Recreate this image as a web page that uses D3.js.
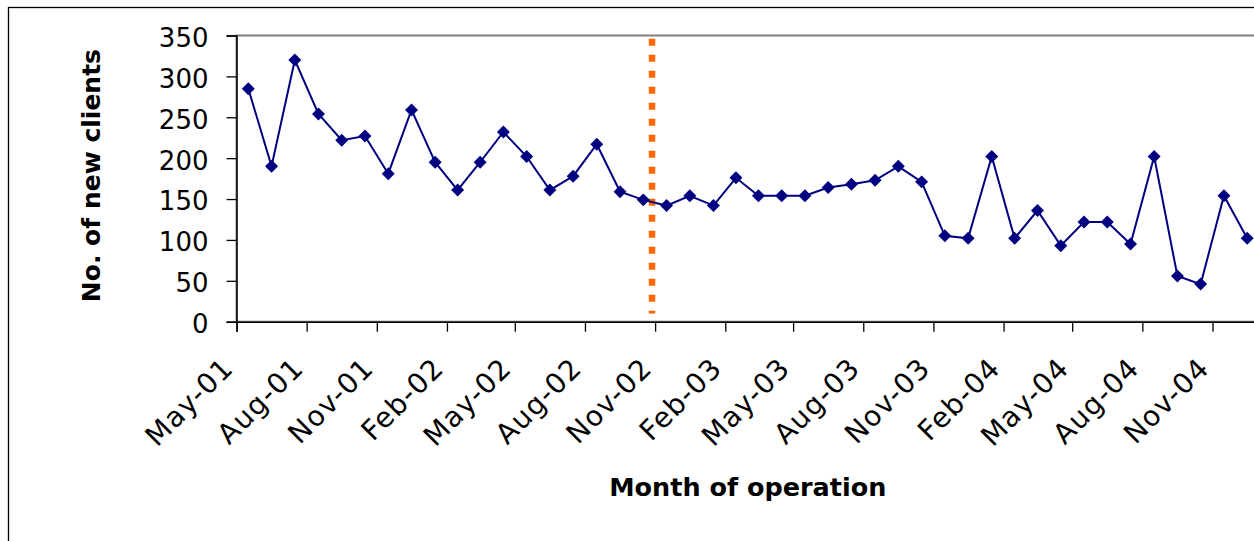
<!DOCTYPE html>
<html>
<head>
<meta charset="utf-8">
<script src="https://cdn.jsdelivr.net/npm/d3@7"></script>
<style>
  html, body { margin: 0; padding: 0; background: #fff; }
  svg { display: block; }
  text { font-family: "DejaVu Sans", sans-serif; fill: #000; }
</style>
</head>
<body>
<svg id="chart" width="1254" height="541"></svg>
<script>
// Monthly intake of new clients, May 2001 – Dec 2004
const months = [
  "May-01","Jun-01","Jul-01","Aug-01","Sep-01","Oct-01","Nov-01","Dec-01",
  "Jan-02","Feb-02","Mar-02","Apr-02","May-02","Jun-02","Jul-02","Aug-02",
  "Sep-02","Oct-02","Nov-02","Dec-02","Jan-03","Feb-03","Mar-03","Apr-03",
  "May-03","Jun-03","Jul-03","Aug-03","Sep-03","Oct-03","Nov-03","Dec-03",
  "Jan-04","Feb-04","Mar-04","Apr-04","May-04","Jun-04","Jul-04","Aug-04",
  "Sep-04","Oct-04","Nov-04","Dec-04"
];
const newClients = [
  285, 190, 320, 254, 222, 227, 181, 259,
  195, 161, 195, 232, 202, 161, 178, 217,
  159, 149, 142, 154, 142, 176, 154, 154,
  154, 164, 168, 173, 190, 171, 105, 102,
  202, 102, 136,  93, 122, 122,  95, 202,
   56,  46, 154, 102
];
const tickLabels = [
  "May-01","Aug-01","Nov-01","Feb-02","May-02","Aug-02","Nov-02",
  "Feb-03","May-03","Aug-03","Nov-03","Feb-04","May-04","Aug-04","Nov-04"
];
const yTicks = [0, 50, 100, 150, 200, 250, 300, 350];
// Start of the new service arrangement, and the span of the marker line
const changeDate = "2002-10-28";
const changeSpan = [346, 10];

const parseMonth = d3.timeParse("%b-%y");
const fmtMonth = d3.timeFormat("%b-%y");

const svg = d3.select("#chart");
const plot = { left: 236.5, top: 35.5, right: 1259, bottom: 321.7 };

// Outer chart frame
svg.append("rect")
  .attr("x", 8.5).attr("y", 7.5)
  .attr("width", 1400).attr("height", 700)
  .attr("fill", "#fff").attr("stroke", "#000").attr("stroke-width", 1.3);

const x = d3.scaleTime()
  .domain([parseMonth("May-01"), parseMonth("Jan-05")])
  .range([plot.left, plot.right]);
const y = d3.scaleLinear().domain([0, 350]).range([plot.bottom, plot.top]);

// Plot-area border
svg.append("rect")
  .attr("x", plot.left).attr("y", plot.top)
  .attr("width", plot.right - plot.left).attr("height", plot.bottom - plot.top)
  .attr("fill", "none").attr("stroke", "#808080").attr("stroke-width", 2);

// Each month's point sits in the middle of its month
const points = months.map((m, i) => {
  const start = parseMonth(m);
  const end = d3.timeMonth.offset(start, 1);
  return { date: new Date((+start + +end) / 2), value: newClients[i] };
});

// Y axis
const yAxis = svg.append("g")
  .attr("transform", `translate(${plot.left},0)`)
  .call(d3.axisLeft(y).tickValues(yTicks).tickSize(10).tickPadding(18));
yAxis.selectAll("text")
  .style("font-size", "26px")
  .attr("dy", "0.42em");

// X axis
const xAxis = svg.append("g")
  .attr("transform", `translate(0,${plot.bottom})`)
  .call(d3.axisBottom(x)
    .tickValues(tickLabels.map(parseMonth))
    .tickFormat(fmtMonth)
    .tickSize(10));
xAxis.selectAll(".tick text")
  .style("font-size", "28px")
  .style("letter-spacing", "1.2px")
  .attr("text-anchor", "end")
  .attr("x", 0).attr("y", 0).attr("dy", 0)
  .attr("transform", "translate(-2,48) rotate(-45)");

[yAxis, xAxis].forEach(g => {
  g.selectAll("path.domain").attr("stroke", "#000").attr("stroke-width", 1.5);
  g.selectAll(".tick line").attr("stroke", "#000").attr("stroke-width", 1.3);
});

// Marker line for the change in arrangement
svg.append("line")
  .attr("x1", x(new Date(changeDate))).attr("x2", x(new Date(changeDate)))
  .attr("y1", y(changeSpan[0])).attr("y2", y(changeSpan[1]))
  .attr("stroke", "#FF6600").attr("stroke-width", 6.5)
  .attr("stroke-dasharray", "7,9");

// Series line and diamond markers
svg.append("path")
  .datum(points)
  .attr("fill", "none")
  .attr("stroke", "#000080")
  .attr("stroke-width", 2)
  .attr("d", d3.line().x(d => x(d.date)).y(d => y(d.value)));

svg.append("g").selectAll("path")
  .data(points)
  .join("path")
  .attr("transform", d => `translate(${x(d.date)},${y(d.value)}) rotate(45)`)
  .attr("d", d3.symbol(d3.symbolSquare, 84)())
  .attr("fill", "#000080");

// Axis titles
svg.append("text")
  .attr("x", (plot.left + plot.right) / 2).attr("y", 496)
  .attr("text-anchor", "middle")
  .style("font-size", "25.5px").style("font-weight", "bold")
  .text("Month of operation");

svg.append("text")
  .attr("transform", `translate(100,${(plot.top + plot.bottom) / 2 - 3}) rotate(-90)`)
  .attr("text-anchor", "middle")
  .style("font-size", "25px").style("font-weight", "bold")
  .text("No. of new clients");
</script>
</body>
</html>
